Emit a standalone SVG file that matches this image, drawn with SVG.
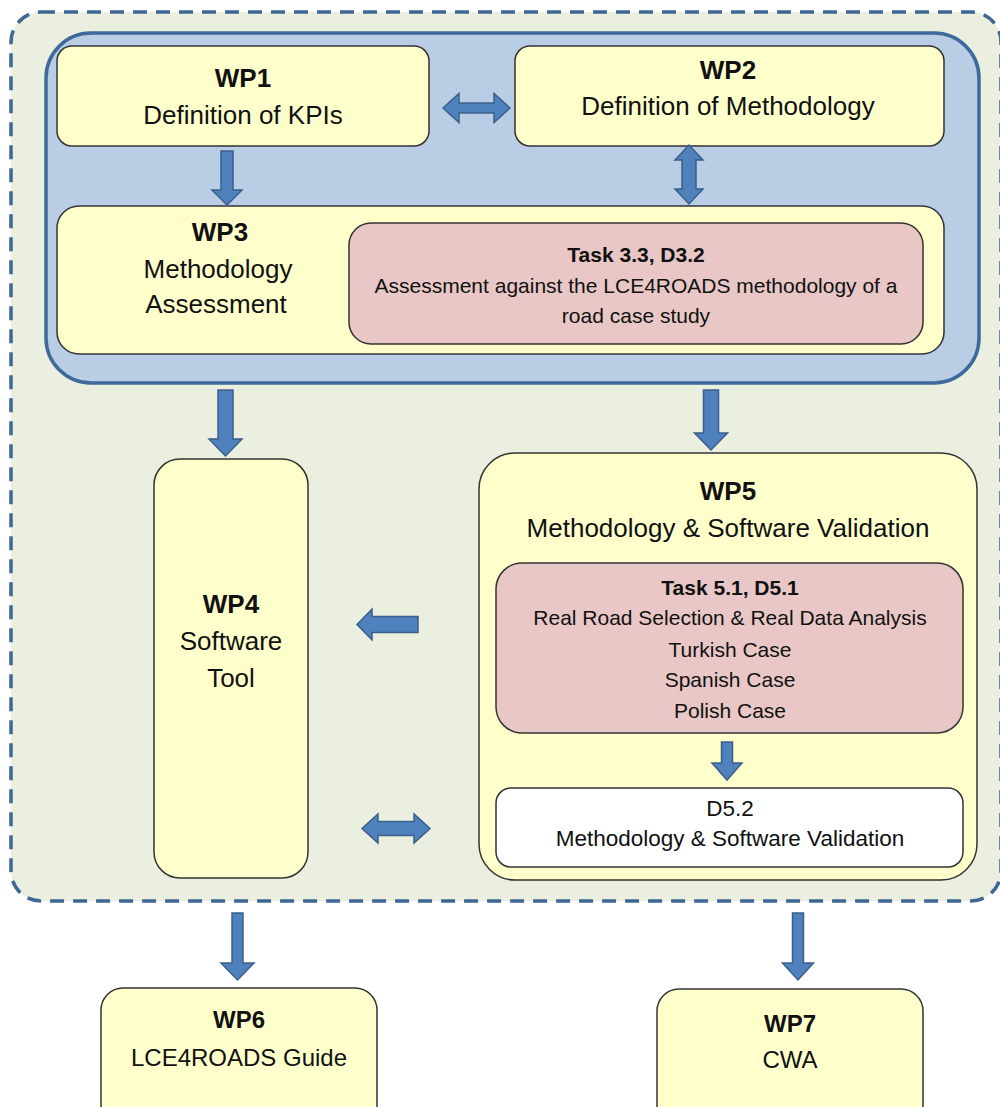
<svg xmlns="http://www.w3.org/2000/svg" width="1000" height="1107" viewBox="0 0 1000 1107">
<style>
.outer{fill:#EBEFDF;stroke:#3F6796;stroke-width:3.5;stroke-dasharray:14 9}
.blue{fill:#B9CDE5;stroke:#3D6A9A;stroke-width:3.5}
.yel{fill:#FFFFCC;stroke:#333;stroke-width:1.5}
.pink{fill:#E8C7C6;stroke:#333;stroke-width:1.5}
.white{fill:#FFFFFF;stroke:#333;stroke-width:1.5}
.arr{fill:#4F81BD;stroke:#3A5F8C;stroke-width:1.5;stroke-linejoin:miter}
text{font-family:"Liberation Sans",Arial,sans-serif;fill:#111;text-anchor:middle}
.b{font-weight:bold;font-size:26px}
.t{font-size:26px}
.pb{font-weight:bold;font-size:21px}
.p{font-size:21px}
.d{font-size:22.5px}
.bb{font-weight:bold;font-size:24px}
.bt{font-size:24px}
</style>
<rect class="outer" x="11" y="12" width="990" height="889" rx="30"/>
<rect class="blue" x="46" y="33" width="933" height="350" rx="45"/>

<g id="wp1">
<rect class="yel" x="57" y="46" width="372" height="100" rx="15"/>
<text class="b" x="243" y="87">WP1</text>
<text class="t" x="243" y="124">Definition of KPIs</text>
</g>
<g id="wp2">
<rect class="yel" x="515" y="46" width="429" height="100" rx="15"/>
<text class="b" x="728" y="79">WP2</text>
<text class="t" x="728" y="115">Definition of Methodology</text>
</g>
<g id="wp3">
<rect class="yel" x="57" y="206" width="887" height="148" rx="22"/>
<text class="b" x="220" y="241">WP3</text>
<text class="t" x="218" y="278">Methodology</text>
<text class="t" x="216" y="313">Assessment</text>
</g>
<g id="task33">
<rect class="pink" x="349" y="223" width="574" height="121" rx="22"/>
<text class="pb" x="636" y="262">Task 3.3, D3.2</text>
<text class="p" x="636" y="293">Assessment against the LCE4ROADS methodology of a</text>
<text class="p" x="636" y="323">road case study</text>
</g>
<g id="wp4">
<rect class="yel" x="154" y="459" width="154" height="419" rx="26"/>
<text class="b" x="231" y="613">WP4</text>
<text class="t" x="231" y="650">Software</text>
<text class="t" x="231" y="687">Tool</text>
</g>
<g id="wp5">
<rect class="yel" x="479" y="453" width="498" height="427" rx="36"/>
<text class="b" x="728" y="500">WP5</text>
<text class="t" x="728" y="537">Methodology &amp; Software Validation</text>
</g>
<g id="task51">
<rect class="pink" x="496" y="563" width="467" height="170" rx="26"/>
<text class="pb" x="730" y="595">Task 5.1, D5.1</text>
<text class="p" x="730" y="625">Real Road Selection &amp; Real Data Analysis</text>
<text class="p" x="730" y="657">Turkish Case</text>
<text class="p" x="730" y="687">Spanish Case</text>
<text class="p" x="730" y="718">Polish Case</text>
</g>
<g id="d52">
<rect class="white" x="496" y="788" width="467" height="79" rx="15"/>
<text class="d" x="730" y="816">D5.2</text>
<text class="d" x="730" y="846">Methodology &amp; Software Validation</text>
</g>
<g id="wp6">
<rect class="yel" x="101" y="988" width="276" height="140" rx="22"/>
<text class="bb" x="239" y="1028">WP6</text>
<text class="bt" x="239" y="1066">LCE4ROADS Guide</text>
</g>
<g id="wp7">
<rect class="yel" x="657" y="989" width="266" height="140" rx="22"/>
<text class="bb" x="790" y="1032">WP7</text>
<text class="bt" x="790" y="1068">CWA</text>
</g>

<g id="connectors">
<polygon class="arr" points="443,108 459,93.5 459,103 494,103 494,93.5 510,108 494,122.5 494,113 459,113 459,122.5"/>
<polygon class="arr" points="221,151 233,151 233,190 242,190 227,205 212,190 221,190"/>
<polygon class="arr" points="689,145 703,160 696,160 696,189 703,189 689,204 675,189 682,189 682,160 675,160"/>
<polygon class="arr" points="218,390 233,390 233,439 242,439 225.5,456 209,439 218,439"/>
<polygon class="arr" points="703.5,390 718.5,390 718.5,433 727.5,433 711,450 694.5,433 703.5,433"/>
<polygon class="arr" points="357,624.5 372,609 372,616.5 418,616.5 418,632.5 372,632.5 372,640"/>
<polygon class="arr" points="362,828.5 378,814 378,821.5 414,821.5 414,814 430,828.5 414,843 414,835.5 378,835.5 378,843"/>
<polygon class="arr" points="721.5,742 732.5,742 732.5,763 742,763 727,780 712,763 721.5,763"/>
<polygon class="arr" points="232,913 243,913 243,963 254,963 237.5,980 221,963 232,963"/>
<polygon class="arr" points="792.5,913 803.5,913 803.5,963 813.5,963 798,980 782.5,963 792.5,963"/>
</g>
</svg>
